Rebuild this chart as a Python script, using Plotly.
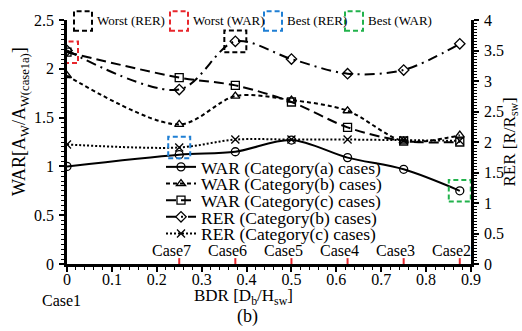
import plotly.graph_objects as go

# Bottom-depth ratio of each case and the case names
bdr = [0, 0.25, 0.375, 0.5, 0.625, 0.75, 0.875]
case_names = ["Case1", "Case7", "Case6", "Case5", "Case4", "Case3", "Case2"]

# Wave attenuation ratio (left axis)
war_a = [1.00, 1.12, 1.15, 1.27, 1.09, 0.97, 0.75]
war_b = [1.93, 1.43, 1.72, 1.68, 1.57, 1.26, 1.32]
war_c = [2.17, 1.91, 1.83, 1.66, 1.40, 1.26, 1.25]

# Relative energy ratio (right axis)
rer_b = [3.50, 2.86, 3.65, 3.36, 3.12, 3.18, 3.61]
rer_c = [1.96, 1.91, 2.04, 2.04, 2.04, 2.03, 2.02]

x_ticks = [0, 0.1, 0.2, 0.3, 0.4, 0.5, 0.6, 0.7, 0.8, 0.9]
y_ticks = [0, 0.5, 1, 1.5, 2, 2.5]
y2_ticks = [0, 0.5, 1, 1.5, 2, 2.5, 3, 3.5, 4]

W, H = 522, 331
ML, MR, MT, MB = 67, 51, 15, 67
PW, PH = W - ML - MR, H - MT - MB
X_RANGE, Y_RANGE, Y2_RANGE = [0, 0.9], [0, 2.5], [0, 4]

SERIF = "Liberation Serif"


def px_x(p):
    return (p - ML) / PW


def px_y(p):
    return (H - MB - p) / PH


fig = go.Figure()

series = [
    ("WAR (Category(a) cases)", war_a, "y", "solid", "circle-open", "legend"),
    ("WAR (Category(b) cases)", war_b, "y", "4px,3px", "triangle-up-open", "legend2"),
    ("WAR (Category(c) cases)", war_c, "y", "10px,5px", "square-open", "legend3"),
    ("RER (Category(b) cases)", rer_b, "y2", "10px,5px,2px,5px", "diamond-open", "legend4"),
    ("RER (Category(c) cases)", rer_c, "y2", "2px,2px", "x-thin-open", "legend5"),
]

for name, vals, yax, dash, sym, leg in series:
    fig.add_trace(go.Scatter(
        x=bdr, y=vals, name=name, yaxis=yax, legend=leg,
        mode="lines+markers",
        line=dict(color="black", width=2, dash=dash, shape="spline", smoothing=0.9),
        marker=dict(symbol=sym, size=8, color="black", line=dict(width=1.3, color="black")),
    ))

# One single-item legend per series, stacked tightly inside the plot
row_centres = [165, 182, 199, 216, 233]
legends = {}
for i, yc in enumerate(row_centres):
    key = "legend" if i == 0 else f"legend{i + 1}"
    legends[key] = dict(
        x=px_x(161), y=px_y(yc), xanchor="left", yanchor="middle",
        bgcolor="rgba(0,0,0,0)", borderwidth=0,
        font=dict(family=SERIF, size=17.5, color="black"),
        itemwidth=30,
    )
fig.update_layout(**legends)

shapes = []
annotations = []

# Dashed highlight boxes around notable points
box_hx = 11 * (X_RANGE[1] - X_RANGE[0]) / PW
box_hy = 11 * (Y_RANGE[1] - Y_RANGE[0]) / PH
box_hy2 = 11 * (Y2_RANGE[1] - Y2_RANGE[0]) / PH
highlights = [
    (bdr[2], rer_b[2], "y2", box_hy2, "black"),
    (bdr[0], war_c[0], "y", box_hy, "#e8262c"),
    (bdr[1], rer_c[1], "y2", box_hy2, "#1f7fd4"),
    (bdr[6], war_a[6], "y", box_hy, "#22b24c"),
]
for xv, yv, yref, hy, col in highlights:
    shapes.append(dict(
        type="rect", xref="x", yref=yref,
        x0=xv - box_hx, x1=xv + box_hx, y0=yv - hy, y1=yv + hy,
        line=dict(color=col, width=2, dash="5px,3px"), layer="above",
    ))

# Key for the highlight boxes above the plot
key_items = [
    (74, "black", "Worst (RER)"),
    (170, "#e8262c", "Worst (WAR)"),
    (264, "#1f7fd4", "Best (RER)"),
    (345, "#22b24c", "Best (WAR)"),
]
for x0, col, label in key_items:
    shapes.append(dict(
        type="rect", xref="paper", yref="paper",
        x0=px_x(x0), x1=px_x(x0 + 18), y0=px_y(26), y1=px_y(6),
        line=dict(color=col, width=2, dash="5px,3px"),
    ))
    annotations.append(dict(
        xref="paper", yref="paper", x=px_x(x0 + 21), y=px_y(16),
        xanchor="left", yanchor="middle", text=label, showarrow=False,
        font=dict(family=SERIF, size=13, color="black"),
    ))

# Case markers along the x axis
for xv, name in zip(bdr, case_names):
    if xv == 0:
        annotations.append(dict(
            xref="x", yref="paper", x=xv, y=px_y(301), xanchor="center", yanchor="middle",
            xshift=-6, text=name, showarrow=False,
            font=dict(family=SERIF, size=16, color="black"),
        ))
        continue
    shapes.append(dict(
        type="line", xref="x", yref="paper", x0=xv, x1=xv, y0=0, y1=px_y(258),
        line=dict(color="#e8262c", width=2),
    ))
    annotations.append(dict(
        xref="x", yref="paper", x=xv, y=px_y(250), xanchor="center", yanchor="middle",
        xshift=-8, text=name, showarrow=False,
        font=dict(family=SERIF, size=16, color="black"),
    ))

# Axis titles
annotations.append(dict(
    xref="paper", yref="paper", x=px_x(243), y=px_y(298), xanchor="center", yanchor="middle",
    text="BDR [D<sub>b</sub>/H<sub>sw</sub>]", showarrow=False,
    font=dict(family=SERIF, size=17, color="black"),
))
annotations.append(dict(
    xref="paper", yref="paper", x=px_x(247), y=px_y(318), xanchor="center", yanchor="middle",
    text="(b)", showarrow=False, font=dict(family=SERIF, size=18, color="black"),
))
annotations.append(dict(
    xref="paper", yref="paper", x=px_x(21), y=px_y(119), xanchor="center", yanchor="middle",
    text="WAR[A<sub>W</sub>/A<sub>W(case1a)</sub>]", textangle=-90, showarrow=False,
    font=dict(family=SERIF, size=18, color="black"),
))
annotations.append(dict(
    xref="paper", yref="paper", x=px_x(511), y=px_y(140), xanchor="center", yanchor="middle",
    text="RER [R/R<sub>sw</sub>]", textangle=-90, showarrow=False,
    font=dict(family=SERIF, size=17, color="black"),
))

tick_font = dict(family=SERIF, size=16, color="black")


def axis_style(rng, ticks, minor_dtick, standoff):
    return dict(
        range=rng, tickvals=ticks, ticktext=[f"{v:g}" for v in ticks],
        showgrid=False, zeroline=False,
        showline=True, linecolor="black", linewidth=2.5,
        ticks="outside", ticklen=5, tickwidth=1.5, tickcolor="black",
        minor=dict(dtick=minor_dtick, ticks="outside", ticklen=3, tickwidth=1.2, tickcolor="black"),
        tickfont=tick_font, ticklabelstandoff=standoff,
    )


fig.update_layout(
    width=W, height=H,
    margin=dict(l=ML, r=MR, t=MT, b=MB, pad=0),
    paper_bgcolor="white", plot_bgcolor="white",
    font=dict(family=SERIF, color="black"),
    showlegend=True,
    shapes=shapes, annotations=annotations,
    xaxis=axis_style(X_RANGE, x_ticks, 0.02, -6),
    yaxis=axis_style(Y_RANGE, y_ticks, 0.05, 2),
    yaxis2=dict(axis_style(Y2_RANGE, y2_ticks, 0.05, 2), overlaying="y", side="right", anchor="x"),
)

fig.write_html("out.html")
